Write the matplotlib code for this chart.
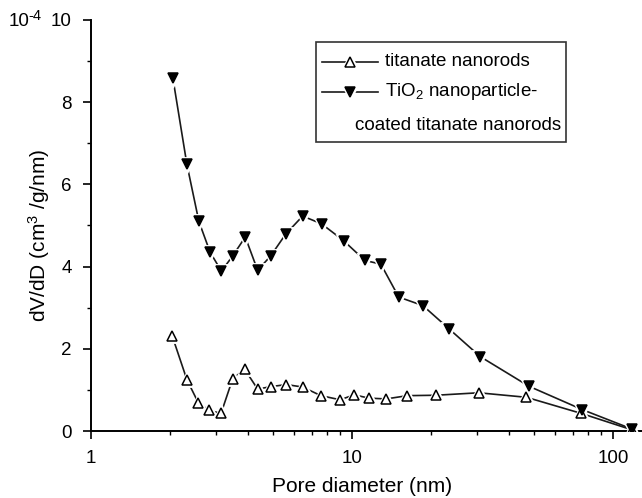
"""
Pore size distribution (BJH) — titanate nanorods vs TiO2-coated nanorods
"""

import matplotlib
matplotlib.use("Agg")
import matplotlib.pyplot as plt
from matplotlib.lines import Line2D
from matplotlib.patches import Rectangle
from matplotlib.ticker import FixedLocator, MultipleLocator, LogLocator, NullFormatter

plt.rcParams['font.family'] = ['Liberation Sans', 'DejaVu Sans']
plt.rcParams['mathtext.fontset'] = 'custom'
plt.rcParams['mathtext.rm'] = 'Liberation Sans'
plt.rcParams['mathtext.it'] = 'Liberation Sans:italic'
plt.rcParams['mathtext.bf'] = 'Liberation Sans:bold'

# ── Data (dV/dD in units of 1e-4) ────────────────────────────────────────────
d_rods = [2.05, 2.33, 2.58, 2.84, 3.15, 3.49, 3.88, 4.35, 4.9, 5.6, 6.47,
          7.6, 9.0, 10.2, 11.6, 13.5, 16.3, 21.0, 30.6, 46.6, 75.4, 118]
v_rods = [2.30, 1.25, 0.68, 0.50, 0.43, 1.27, 1.50, 1.02, 1.08, 1.13, 1.07,
          0.86, 0.76, 0.88, 0.80, 0.78, 0.86, 0.87, 0.93, 0.82, 0.43, 0.03]

d_coated = [2.06, 2.33, 2.59, 2.86, 3.16, 3.49, 3.90, 4.35, 4.88, 5.57, 6.47,
            7.65, 9.29, 11.2, 12.9, 15.1, 18.7, 23.5, 31.0, 47.6, 76.3, 118]
v_coated = [8.58, 6.49, 5.10, 4.35, 3.89, 4.26, 4.72, 3.91, 4.26, 4.79, 5.23,
            5.04, 4.63, 4.15, 4.06, 3.26, 3.05, 2.49, 1.81, 1.09, 0.52, 0.05]

x_major = [1, 10, 100]
x_labels = ["1", "10", "100"]
y_major = [0, 2, 4, 6, 8, 10]

label_rods = "titanate nanorods"
label_coated_1 = "TiO$_2$ nanoparticle-"
label_coated_2 = "coated titanate nanorods"

# ── Figure ────────────────────────────────────────────────────────────────────
W, H = 642, 498
fig = plt.figure(figsize=(W / 100, H / 100), dpi=100)
ax = fig.add_axes([91 / W, 1 - 431 / H, (W - 91) / W, (431 - 20) / H])

LINE = '#1a1a1a'
MS = 7.5

# draw a white halo under each marker so the line stops short of it
ax.plot(d_rods, v_rods, '-', color=LINE, lw=1.2, zorder=2)
ax.plot(d_coated, v_coated, '-', color=LINE, lw=1.2, zorder=2)
ax.plot(d_rods, v_rods, '^', ms=MS, mfc='white', mec='white', mew=3.5, ls='none', zorder=3)
ax.plot(d_coated, v_coated, 'v', ms=MS, mfc='white', mec='white', mew=3.5, ls='none', zorder=3)
ax.plot(d_rods, v_rods, '^', ms=MS, mfc='white', mec='black', mew=1.1, ls='none', zorder=4)
ax.plot(d_coated, v_coated, 'v', ms=MS, mfc='black', mec='black', mew=1.1, ls='none', zorder=4)

ax.set_xscale('log')
ax.set_xlim(1, 10 ** ((W - 91) / 261))
ax.set_ylim(0, 10)
ax.xaxis.set_major_locator(FixedLocator(x_major))
ax.set_xticklabels(x_labels)
ax.xaxis.set_minor_locator(LogLocator(base=10, subs=range(2, 10)))
ax.xaxis.set_minor_formatter(NullFormatter())
ax.yaxis.set_major_locator(FixedLocator(y_major))
ax.yaxis.set_minor_locator(MultipleLocator(1))

for s in ['top', 'right']:
    ax.spines[s].set_visible(False)
for s in ['left', 'bottom']:
    ax.spines[s].set_linewidth(1.4)

ax.tick_params(which='major', direction='out', length=6, width=1.2,
               labelsize=13.5, pad=8)
ax.tick_params(which='minor', direction='out', length=3, width=1.0)

# axis titles
fig.text(39 / W, 1 - 235 / H, "dV/dD (cm$^3$ /g/nm)", rotation=90,
         ha='center', va='center', fontsize=15)
fig.text(362 / W, 1 - 486 / H, "Pore diameter (nm)", ha='center', va='center',
         fontsize=15)
# axis multiplier, superscript kept large like the original
fig.text(9 / W, 1 - 22 / H, "10", ha='left', va='center', fontsize=13.5)
fig.text(28 / W, 1 - 16 / H, "-4", ha='left', va='center', fontsize=10.5)

# ── Legend box (drawn by hand: Origin-style wrapped second entry) ─────────────
fig.add_artist(Rectangle((316 / W, 1 - 142 / H), 250 / W, 100 / H,
                         transform=fig.transFigure, fc='white', ec='#333333',
                         lw=1.2, zorder=5))
rows = [62, 92]
for row, mk, fc in zip(rows, ['^', 'v'], ['white', 'black']):
    y = 1 - row / H
    fig.add_artist(Line2D([322 / W, 378 / W], [y, y], color=LINE, lw=1.2,
                          transform=fig.transFigure, zorder=6))
    fig.add_artist(Line2D([350 / W], [y], marker=mk, ms=MS, mfc='white',
                          mec='white', mew=3.5, ls='none',
                          transform=fig.transFigure, zorder=6))
    fig.add_artist(Line2D([350 / W], [y], marker=mk, ms=MS, mfc=fc,
                          mec='black', mew=1.1, ls='none',
                          transform=fig.transFigure, zorder=7))
fig.text(385 / W, 1 - 62 / H, label_rods, ha='left', va='center', fontsize=13.5, zorder=8)
fig.text(385 / W, 1 - 92 / H, label_coated_1, ha='left', va='center', fontsize=13.5, zorder=8)
fig.text(355 / W, 1 - 125 / H, label_coated_2, ha='left', va='center', fontsize=13.5, zorder=8)

fig.savefig("out.png", dpi=100)
